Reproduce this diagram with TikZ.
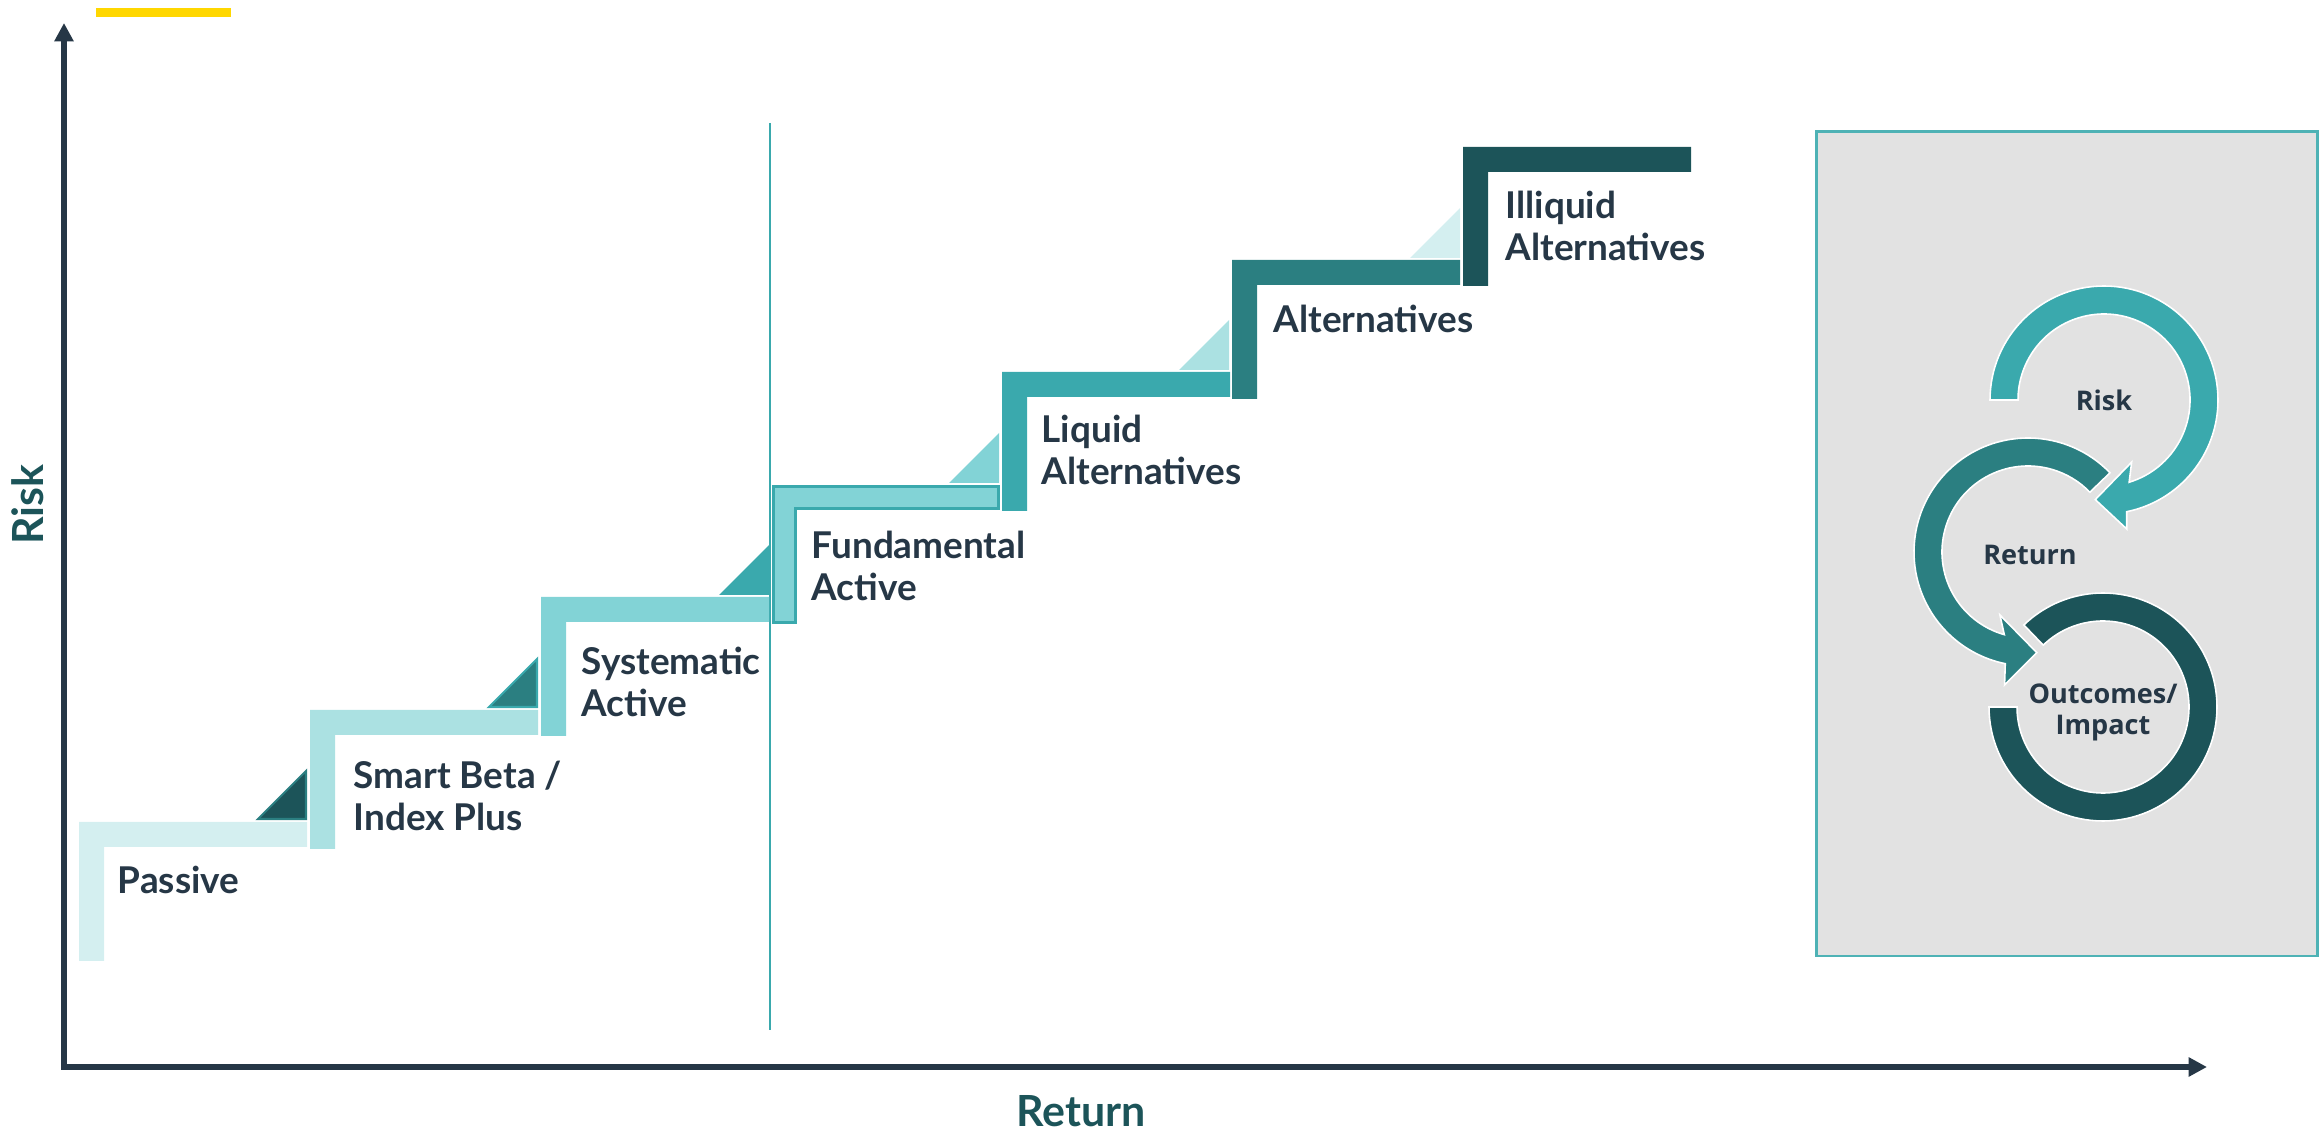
\documentclass[tikz,border=0pt]{standalone}
\usepackage{fontspec}
\setmainfont{Lato}
\newfontfamily\ringfont{Open Sans}
\usetikzlibrary{arrows.meta}

\definecolor{inkdark}{HTML}{263746}
\definecolor{tealA}{HTML}{D4EFF0}
\definecolor{tealB}{HTML}{ABE1E2}
\definecolor{tealC}{HTML}{82D3D6}
\definecolor{tealD}{HTML}{3AA9AD}
\definecolor{tealE}{HTML}{2B7F81}
\definecolor{tealF}{HTML}{1C5459}
\definecolor{panelgrey}{HTML}{E2E2E2}
\definecolor{baryellow}{HTML}{FFD700}

\begin{document}
\begin{tikzpicture}[x=0.01cm, y=-0.01cm,
	axis/.style={line width=1.7pt, draw=inkdark, line join=miter,
		{Triangle[length=5.2pt,width=5.2pt]}-{Triangle[length=5.2pt,width=5.2pt]}},
	stair/.style={fill=#1},
	riser/.style={fill=#1},
	steplabel/.style={anchor=base west, inner sep=0pt, align=left, text=inkdark,
		font=\bfseries\fontsize{10.5}{12.2}\selectfont},
	axislabel/.style={inner sep=0pt, text=tealF, font=\bfseries\fontsize{12.2}{14}\selectfont},
	ring/.style={fill=#1, draw=white, line width=0.45pt},
	ringtext/.style={inner sep=0pt, align=center, text=inkdark,
		font=\ringfont\bfseries\fontsize{7.7}{8.8}\selectfont}]
	\useasboundingbox (0,0) rectangle (2323,1131);
	%
	\fill [baryellow] (96,8) rectangle (231,17);
	\coordinate (origin) at (64,1067);
	\coordinate (ytip) at (64,23);
	\coordinate (xtip) at (2207,1067);
	\draw [axis] (xtip) -- (origin) -- (ytip);
	\node [axislabel, rotate=90] (risklabel) at (28,505) {Risk};
	\node [axislabel] (returnlabel) at (1081,1111) {Return};
	\draw [tealD, line width=0.5pt] (770,123) -- (770,1030);
	%
	\fill [stair=tealA] (79,822) -- ++(228,0) -- ++(0,25) -- ++(-203,0) -- ++(0,114) -- ++(-25,0) -- cycle;
	\fill [stair=tealB] (310,710) -- ++(228,0) -- ++(0,25) -- ++(-203,0) -- ++(0,114) -- ++(-25,0) -- cycle;
	\fill [stair=tealC] (541,597) -- ++(228,0) -- ++(0,25) -- ++(-203,0) -- ++(0,114) -- ++(-25,0) -- cycle;
	\filldraw [stair=tealC, draw=tealD, line width=0.8pt] (773.5,486.5) -- ++(225,0) -- ++(0,22) -- ++(-203,0) -- ++(0,114) -- ++(-22,0) -- cycle;
	\fill [stair=tealD] (1002,372) -- ++(228,0) -- ++(0,25) -- ++(-203,0) -- ++(0,114) -- ++(-25,0) -- cycle;
	\fill [stair=tealE] (1232,260) -- ++(228,0) -- ++(0,25) -- ++(-203,0) -- ++(0,114) -- ++(-25,0) -- cycle;
	\fill [stair=tealF] (1463,147) -- ++(228,0) -- ++(0,25) -- ++(-203,0) -- ++(0,114) -- ++(-25,0) -- cycle;
	%
	\filldraw [riser=tealF, draw=tealE, line width=0.6pt] (306,819) -- ++(-48,0) -- ++(48,-48) -- cycle;
	\filldraw [riser=tealE, draw=tealD, line width=0.6pt] (537,707) -- ++(-48,0) -- ++(48,-48) -- cycle;
	\fill [riser=tealD] (769,595) -- ++(-50,0) -- ++(50,-50) -- cycle;
	\fill [riser=tealC] (999,483) -- ++(-50,0) -- ++(50,-50) -- cycle;
	\fill [riser=tealB] (1229,370) -- ++(-50,0) -- ++(50,-50) -- cycle;
	\fill [riser=tealA] (1460,258) -- ++(-50,0) -- ++(50,-50) -- cycle;
	%
	\node [steplabel] (passive) at (117,894) {Passive};
	\node [steplabel] (smartbeta) at (353,831) {Smart Beta /\\Index Plus};
	\node [steplabel] (systematic) at (581,717) {Systematic\\Active};
	\node [steplabel] (fundamental) at (811,601) {Fundamental\\Active};
	\node [steplabel] (liquid) at (1041,485) {Liquid\\Alternatives};
	\node [steplabel] (alternatives) at (1273,333) {Alternatives};
	\node [steplabel] (illiquid) at (1505,261) {Illiquid\\Alternatives};
	%
	\draw [fill=panelgrey, draw=tealD!90!white, line width=0.85pt] (1816,132) rectangle (2317,956);
	%
	\begin{scope}[shift={(2104,400)}]
		\draw [ring=tealD] (-180:114) arc [start angle=-180, end angle=78.5, radius=114]
			-- (80:131) -- (95:100) -- (66:68) -- (73:86)
			arc [start angle=73, end angle=-180, radius=86] -- cycle;
		\node [ringtext] (risk) at (0,0) {Risk};
	\end{scope}
	\begin{scope}[shift={(2028,552)}]
		\draw [ring=tealE] (-44:114) arc [start angle=-44, end angle=-258.5, radius=114]
			-- (-260:135) -- (-275:101) -- (-246:69) -- (-254:86)
			arc [start angle=-254, end angle=-44, radius=86] -- cycle;
		\node [ringtext] (return) at (2,3) {Return};
	\end{scope}
	\begin{scope}[shift={(2103,707)}]
		\draw [ring=tealF] (-180:114) arc [start angle=-180, end angle=-494, radius=114]
			-- (-494:86) arc [start angle=-494, end angle=-180, radius=86] -- cycle;
		\node [ringtext] (outcomes) at (0,5) {Outcomes/\\Impact};
	\end{scope}
\end{tikzpicture}
\end{document}
